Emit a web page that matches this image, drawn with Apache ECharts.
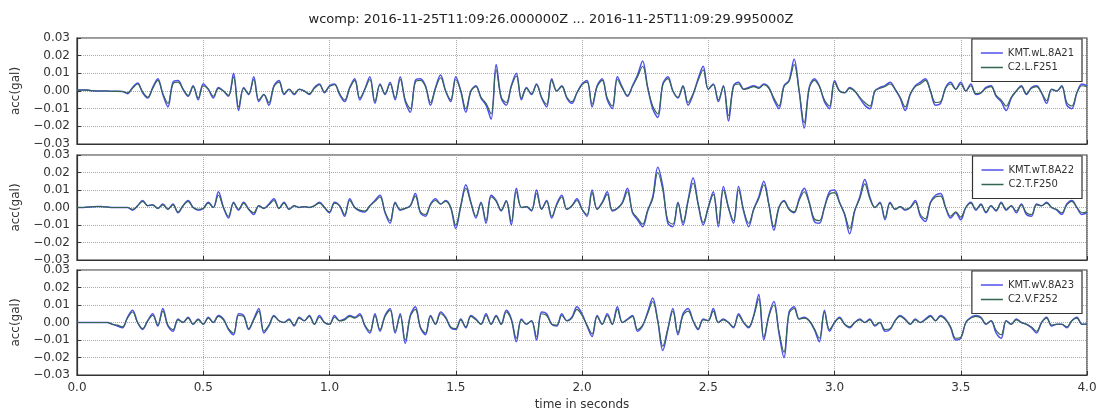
<!DOCTYPE html>
<html><head><meta charset="utf-8">
<script src="https://cdn.jsdelivr.net/npm/echarts@6/dist/echarts.min.js"></script>
<style>html,body{margin:0;padding:0;background:#fff}#c{width:1102px;height:414px}</style>
</head><body><div id="c"></div>
<script>
const TITLE = 'wcomp: 2016-11-25T11:09:26.000000Z ... 2016-11-25T11:09:29.995000Z';
const X_NAME = 'time in seconds';
const Y_NAME = 'acc(gal)';
const SAMPLE_INTERVAL = 0.02;   // seconds between values
const UNIT = 0.001;             // values below are in units of 0.001 gal
const X_MIN = 0, X_MAX = 4, X_STEP = 0.5;
const Y_MIN = -0.03, Y_MAX = 0.03, Y_STEP = 0.01;
const namesL = ['KMT.wL.8A21', 'C2.L.F251'];
const namesT = ['KMT.wT.8A22', 'C2.T.F250'];
const namesV = ['KMT.wV.8A23', 'C2.V.F252'];

const L_kmt = [0.5,0.6,0.5,0.2,0,0,0,-0.2,-0.2,-0.3,
-1.5,2,4.5,-1,-4,2,7,-2,-9,5,
6,1,-3,3,-5,4,1,-4,2,0,
-3,10,-11,2,-2,8,-6,-2,-8,3,
6,-2,1,-2,1,0,-2,2,4,-1,
3,4,-2,-6,2,7,-5,1,8,-7,
4,-2,5,-5,8,-6,-12,6,7,3,
-8,2,9,0,-6,8,0,-12,0,3,
-4,-8,-16,15,-4,-8,3,10,-5,2,
-2,4,-4,-9,7,0,3,-4,-7,-1,
4,6,-9,3,7,-5,-10,8,2,-3,
3,9,17,2,-10,-15,4,8,0,-4,
3,-8,-2,7,14,1,4,-6,3,-17,
3,5,1,2,3,2,4,2,-5,-10,
3,6,18,0,-21,2,7,3,-6,-10,
6,0,-1,2,0,-4,-8,-10,0,2,
3,5,1,-4,-11,-2,3,5,7,0,
-8,-7,2,5,1,5,0,4,-2,-1,
2,3,-3,-6,-11,-4,0,3,-2,2,
3,-1,-7,1,0,3,-8,-10,-1,4,3];
const L_c2 = [0.5,0.6,0.5,0.2,0,0,0,-0.2,-0.2,-0.3,
-1,1.5,4,-0.5,-3.5,1.5,6,-1.5,-7,4,
5,1,-2.5,2.5,-4,3,1,-3,1.5,0,
-2.5,8,-9,1.5,-1.5,6.5,-5,-2,-6.5,2.5,
5,-1.5,1,-1.5,1,0,-1.5,1.5,3.5,-0.5,
2.5,3.5,-1.5,-5,1.5,6,-4,1,6.5,-6,
3.5,-1.5,4,-4,6.5,-5,-10,5,6,2.5,
-6.5,1.5,7.5,0,-5,6.5,0,-10,0,2.5,
-3.5,-7,-13,12,-3.5,-6.5,2.5,8.5,-4,1.5,
-1.5,3.5,-3.5,-7.5,6,0,2.5,-3.5,-6,-1,
3.5,5,-7.5,2.5,6,-4,-8.5,6.5,1.5,-2.5,
2.5,8,14,2,-8.5,-13,3.5,7,0,-3.5,
2.5,-6.5,-1.5,6,12,1,3.5,-5,2.5,-14,
2.5,4,1,1.5,2.5,1.5,3.5,1.5,-4,-8.5,
2.5,5.5,15,0,-18,1.5,6,2.5,-5,-8.5,
5,0,-1,1.5,0,-3.5,-6.5,-8.5,0,1.5,
2.5,4,1,-3.5,-9,-1.5,2.5,4,6,0,
-6.5,-6,1.5,4,1,4,0,3,-1.5,-1,
1.5,2.5,-2.5,-5,-8.5,-3.5,0,2.5,-1.5,1.5,
2.5,-1,-5.5,1,0,2.5,-6.5,-8.5,-1,3,2.5];

const T_kmt = [0,0,0.2,0.4,0.6,0.5,0.3,0,0,0,
0,-1.5,1,4,1,1.5,-0.5,2,-1,2,
-3,1,4,0,-1.5,-0.5,3,0,9,0,
-6,3,-1.5,3,-1,-4,1,-0.5,2,5,
-0.5,3,-1,1,0,0.5,0,1,3,0,
-3,3,1,-5,5,0,-2,-2.5,1,4,
7,-3,-9,3,-1.5,-0.5,1,8,-3,-5,
2,5,2,4,0,-12,1,13,3,-6,
3,-9,7,4,-2,4,-10,11,0,0.5,
-2,10,-1,4,-6,2,7,-1,1,5,
-1,-5,10,-1,3,9,-2,-0.5,3,11,
-3,-7,-11,-2,6,23,12,-9,-11,3,
-10,4,17,2,-10,0,9,-11,12,0,
-9,12,-2,-11,-1,6,15,2,-13,0,
4,-1,-3,5,11,3,-8,-9,0,9,
10,3,-4,-15,-2,6,16,6,0,3,
-7,3,-1,0.5,-1.5,0,4,-5,-8,3,
7,8,0,-6,-3,-7,0,3,-1.5,2,
-3,1,-2,3,-1.5,1,-3,2,-4,-5,
2,1,3,0,-1.5,-4,2,4,0,-4,-3];
const T_c2 = [0,0,0.2,0.4,0.6,0.5,0.3,0,0,0,
0,-1,1,3.5,1,1.5,-0.5,1.5,-1,1.5,
-2.5,1,3.5,0,-1,-0.5,2.5,0,7,0,
-5,2.5,-1,2.5,-1,-3,1,-0.5,1.5,4,
-0.5,2.5,-1,1,0,0.5,0,1,2.5,0,
-2.5,2.5,1,-4,4,0,-1.5,-2,1,3.5,
6,-2.5,-7.5,2.5,-1,-0.5,1,6.5,-2.5,-4,
1.5,4,2,3.5,0,-10,1,11,2.5,-5,
2.5,-7.5,6,3.5,-1.5,3.5,-8,9,0,0.5,
-1.5,8,-1,3.5,-5,1.5,6,-1,1,4,
-1,-4,8.5,-1,2.5,7.5,-1.5,-0.5,2.5,9,
-2.5,-6,-9.5,-1.5,5,20,10,-7.5,-9.5,2.5,
-8.5,3.5,14,2,-8.5,0,7.5,-9,10,0,
-7.5,10,-1.5,-9,-1,5,13,1.5,-11,0,
3.5,-1,-2.5,4,9,2.5,-6.5,-7.5,0,7.5,
8.5,2.5,-3.5,-12,-1.5,5,13.5,5,0,2.5,
-6,2.5,-1,0.5,-1,0,3,-4,-6.5,2.5,
6,6.5,0,-5,-2.5,-5.5,0,2.5,-1,1.5,
-2.5,1,-1.5,2.5,-1,1,-2,1.5,-3,-4,
1.5,1,2.5,0,-1,-3,1.5,3.5,0,-3,-2.5];

const V_kmt = [0,0,0,0,0,0,0,-1,-2,-3,
3,7,0,-4,1,5,-2,8,-2,-5,
2,0,3,-1,2,-1,3,0,4,2,
-4,-7,5,4,-4,2,8,-6,-2,4,
1,0,2,-2,3,1,4,-1,4,0,
-1,4,1,2,4,3,5,-2,-6,5,
-5,4,8,-6,5,-12,4,9,-3,-7,
4,-1,6,3,-3,-4,2,-3,4,2,
-1,5,-1,4,-1,7,2,-11,2,-1,
1,-10,6,5,-1,-2,5,1,3,9,
5,-2,-8,4,-1,5,-1,9,0,2,
4,-5,-2,6,14,1,-16,-4,8,-7,
5,8,1,-4,2,1,8,0,2,0,
-3,5,0,-3,4,16,-10,4,12,-6,
-20,6,9,2,3,1,-4,-11,7,-5,
0,3,-1,-3,0,2,0,2,-2,0,
-5,-4,1,4,2,-1,2,0,2,4,
1,4,2,-3,-10,-9,0,3,4,3,
-1,1,-6,-9,1,-1,2,0,-1,-3,
-6,0,3,-2,-1,-1,-3,1,3,-1,-1];
const V_c2 = [0,0,0,0,0,0,0,-1,-1.5,-2.5,
2.5,6,0,-3.5,1,4,-1.5,6.5,-1.5,-4,
1.5,0,2.5,-1,1.5,-1,2.5,0,3.5,1.5,
-3.5,-6,4,3.5,-3.5,1.5,6.5,-5,-1.5,3.5,
1,0,1.5,-1.5,2.5,1,3.5,-1,3,0,
-1,3,1,1.5,3.5,2.5,4,-1.5,-5,4,
-4,3.5,7,-5,4,-10,3.5,7.5,-2.5,-6,
3.5,-1,5,2.5,-2.5,-3.5,1.5,-2.5,3.5,1.5,
-1,4,-1,3.5,-1,6,1.5,-9,1.5,-1,
1,-8,5,4,-1,-1.5,4,1,2.5,7.5,
4,-1.5,-6.5,3.5,-1,4,-1,7.5,0,1.5,
3.5,-4,-1.5,5,12,1,-13.5,-3.5,6.5,-6,
4,6.5,1,-3.5,1.5,1,6.5,0,1.5,0,
-2.5,4,0,-2.5,3.5,13.5,-8.5,3.5,10,-5,
-17,5,8,2,2.5,1,-3.5,-9,6,-4,
0,2.5,-1,-2.5,0,1.5,0,1.5,-1.5,0,
-4,-3.5,1,3.5,1.5,-1,1.5,0,1.5,3.5,
1,3.5,1.5,-2.5,-9,-8.5,0,2.5,3.5,2.5,
-1,1,-4.5,-7,1,-1,1.5,0,-1,-2.5,
-5,0,2.5,-1.5,-1,-1,-2.5,1,2.5,-1,-1];

const panels = [
  {names: namesL, data: [L_kmt, L_c2], top: 38, height: 106},
  {names: namesT, data: [T_kmt, T_c2], top: 155, height: 105},
  {names: namesV, data: [V_kmt, V_c2], top: 270, height: 105}
];
const COLORS = ['#5050e8', '#33664e'];
const WIDTHS = [1.5, 1.1];
const FONT = 'DejaVu Sans';

function toPairs(arr) {
  return arr.map((v, i) => [+(i * SAMPLE_INTERVAL).toFixed(3), v * UNIT]);
}
function yFmt(v) {
  if (Math.abs(v) < 1e-9) return '0.00';
  return (v < 0 ? '\u2212' : '') + Math.abs(v).toFixed(2);
}

const grids = [], xAxes = [], yAxes = [], series = [], legends = [];
panels.forEach((p, k) => {
  const last = k === panels.length - 1;
  grids.push({left: 77, right: 15, top: p.top, height: p.height, show: true,
    borderColor: '#333', borderWidth: 1.2, backgroundColor: 'transparent'});
  xAxes.push({type: 'value', gridIndex: k, min: X_MIN, max: X_MAX, interval: X_STEP,
    axisLine: {show: true, onZero: false, lineStyle: {color: '#333', width: 1.2}},
    axisTick: {show: true, inside: true, length: 4, lineStyle: {color: '#333'}},
    axisLabel: {show: last, formatter: v => v.toFixed(1), color: '#333', fontFamily: FONT, fontSize: 12, margin: 7},
    splitLine: {show: true, lineStyle: {type: 'dotted', color: '#aaa', width: 1}},
    name: last ? X_NAME : '', nameLocation: 'middle', nameGap: 24,
    nameTextStyle: {color: '#333', fontFamily: FONT, fontSize: 12}});
  yAxes.push({type: 'value', gridIndex: k, min: Y_MIN, max: Y_MAX, interval: Y_STEP,
    axisLine: {show: true, onZero: false, lineStyle: {color: '#333', width: 1.2}},
    axisTick: {show: true, inside: true, length: 4, lineStyle: {color: '#333'}},
    axisLabel: {formatter: yFmt, color: '#333', fontFamily: FONT, fontSize: 12, margin: 7,
      showMinLabel: true, showMaxLabel: true},
    splitLine: {show: true, lineStyle: {type: 'dotted', color: '#aaa', width: 1}},
    name: Y_NAME, nameLocation: 'middle', nameGap: 53, nameRotate: 90,
    nameTextStyle: {color: '#333', fontFamily: FONT, fontSize: 12}});
  p.names.forEach((nm, j) => {
    series.push({type: 'line', name: nm, xAxisIndex: k, yAxisIndex: k,
      data: toPairs(p.data[j]), symbol: 'none', showSymbol: false, smooth: 0.35,
      lineStyle: {color: COLORS[j], width: WIDTHS[j]}, itemStyle: {color: COLORS[j]},
      z: 2 + j, animation: false});
  });
  legends.push({data: p.names, orient: 'vertical', right: 20, top: p.top + 1,
    backgroundColor: '#fff', borderColor: '#333', borderWidth: 1.2,
    padding: [8, 8, 8, 9], itemGap: 2.5, itemWidth: 22, itemHeight: 1.5, icon: 'rect',
    textStyle: {color: '#333', fontFamily: FONT, fontSize: 10, lineHeight: 12},
    selectedMode: false});
});

const chart = echarts.init(document.getElementById('c'), null, {renderer: 'canvas'});
chart.setOption({
  backgroundColor: '#fff',
  animation: false,
  title: {text: TITLE, left: 'center', top: 13, padding: 0,
    textStyle: {color: '#222', fontFamily: FONT, fontSize: 13, fontWeight: 'normal'}},
  grid: grids, xAxis: xAxes, yAxis: yAxes, legend: legends, series: series
});
</script></body></html>
